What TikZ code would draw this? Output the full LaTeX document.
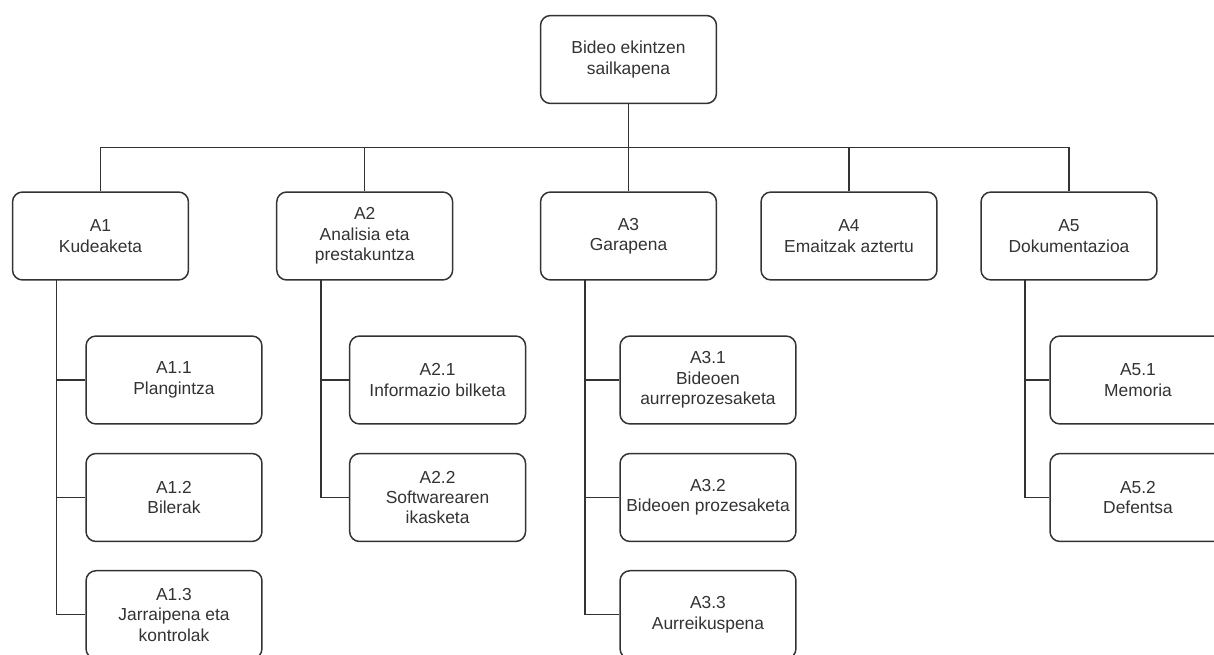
\documentclass[tikz,border=0pt]{standalone}
\usepackage{fontspec}
\setmainfont{Liberation Sans}
\usepackage{tikz}
\usetikzlibrary{positioning, calc}
\definecolor{wbsline}{HTML}{333333}
\definecolor{wbstext}{HTML}{333333}

\begin{document}
\begin{tikzpicture}[
    x=0.02cm, y=-0.02cm,
    task/.style={rectangle, rounded corners=0.2cm, draw=wbsline, line width=0.85pt, fill=white,
                 minimum width=3.52cm, minimum height=1.76cm, align=center, inner sep=1pt,
                 text=wbstext, font=\fontsize{9.9}{11.6}\selectfont},
    link/.style={draw=wbsline, line width=0.85pt}
]
\useasboundingbox (0,0) rectangle (1214,655);
\clip (0,0) rectangle (1214,655);

\node[task] (root) at (628.5,59.5) {Bideo ekintzen\\sailkapena};

\node[task] (A1) at (100.5,236) {A1\\Kudeaketa};
\node[task] (A2) at (364.7,236) {A2\\Analisia eta\\prestakuntza};
\node[task] (A3) at (628.5,236) {A3\\Garapena};
\node[task] (A4) at (849,236)   {A4\\Emaitzak aztertu};
\node[task] (A5) at (1069,236)  {A5\\Dokumentazioa};

\node[task] (A11) at (174,380)   {A1.1\\Plangintza};
\node[task] (A12) at (174,497.5) {A1.2\\Bilerak};
\node[task] (A13) at (174,614.7) {A1.3\\Jarraipena eta\\kontrolak};

\node[task] (A21) at (437.6,380)   {A2.1\\Informazio bilketa};
\node[task] (A22) at (437.6,497.5) {A2.2\\Softwarearen\\ikasketa};

\node[task] (A31) at (708,380)   {A3.1\\Bideoen\\aurreprozesaketa};
\node[task] (A32) at (708,497.5) {A3.2\\Bideoen prozesaketa};
\node[task] (A33) at (708,614.7) {A3.3\\Aurreikuspena};

\node[task] (A51) at (1138,380)   {A5.1\\Memoria};
\node[task] (A52) at (1138,497.5) {A5.2\\Defentsa};

\coordinate (bus) at (628.5,147.5);
\coordinate (t1) at (56.7,280);
\coordinate (t2) at (320.8,280);
\coordinate (t3) at (585,280);
\coordinate (t5) at (1025,280);

\draw[link] (root.south) -- (bus);
\draw[link] (A1.north |- bus) -- (A5.north |- bus);
\foreach \n in {A1,A2,A3,A4,A5}
    \draw[link] (\n.north) -- (\n.north |- bus);

\draw[link] (t1) |- (A13.west);
\draw[link] (t2) |- (A22.west);
\draw[link] (t3) |- (A33.west);
\draw[link] (t5) |- (A52.west);
\foreach \t/\c in {t1/A11,t1/A12,t2/A21,t3/A31,t3/A32,t5/A51}
    \draw[link] (\t |- \c.west) -- (\c.west);
\end{tikzpicture}
\end{document}
